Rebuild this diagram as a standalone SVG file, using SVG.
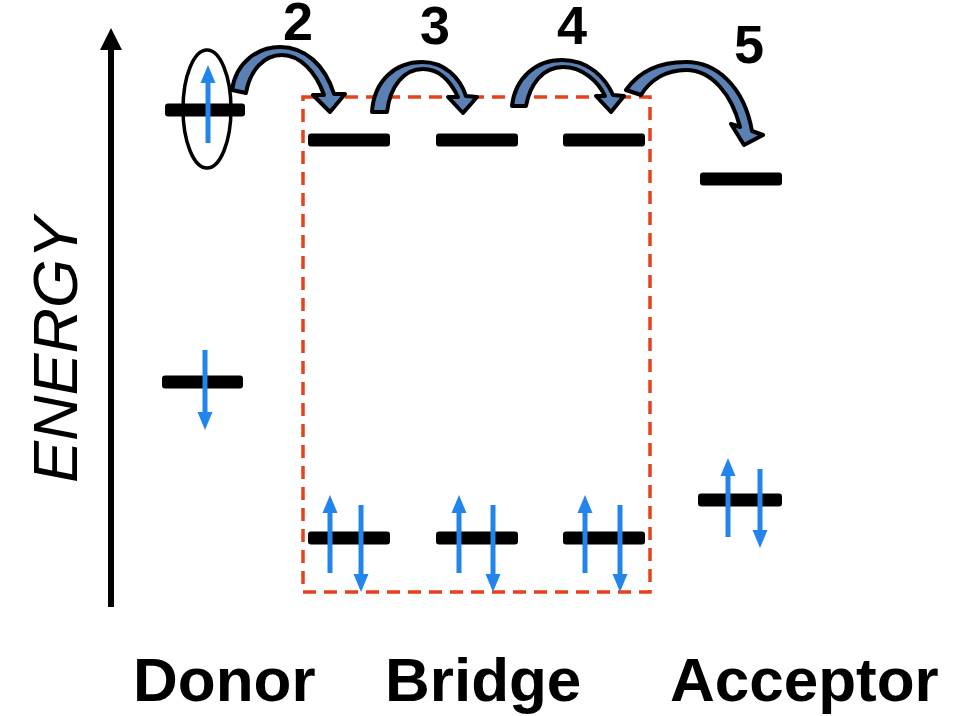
<svg xmlns="http://www.w3.org/2000/svg" width="955" height="716" viewBox="0 0 955 716">
  <style>
    .lvl { fill: #000; }
    .spin { stroke: #2384ec; stroke-width: 5; fill: none; }
    .hop { fill: #5a80b4; stroke: #000; stroke-width: 4; stroke-linejoin: round; }
    .lbl { font-family: "Liberation Sans", Arial, sans-serif; font-weight: bold; fill: #000; }
    .num { font-family: "Liberation Sans", Arial, sans-serif; font-weight: bold; font-size: 54px; fill: #000; text-anchor: middle; }
  </style>
  <defs>
    <marker id="spinHead" markerUnits="userSpaceOnUse" markerWidth="20" markerHeight="16" viewBox="0 -8 20 16" refX="0" refY="0" orient="auto" overflow="visible">
      <path d="M0,-7.5 L18,0 L0,7.5 Z" fill="#2384ec"/>
    </marker>
  </defs>
  <rect width="955" height="716" fill="#fff"/>

  <!-- energy axis -->
  <g id="axis">
    <line x1="111" y1="607" x2="111" y2="48" stroke="#000" stroke-width="6"/>
    <polygon points="100,50 122,50 111,28" fill="#000"/>
    <text x="0" y="0" transform="translate(77,350) rotate(-90)" font-family="'Liberation Sans', Arial, sans-serif" font-style="italic" font-size="63" text-anchor="middle">ENERGY</text>
  </g>

  <!-- bridge region -->
  <rect id="bridge-box" x="303" y="97" width="347" height="495" fill="none" stroke="#e8401c" stroke-width="3.5" stroke-dasharray="13 8"/>

  <!-- donor -->
  <g id="donor">
    <ellipse cx="207" cy="109" rx="24" ry="59" fill="#fff" stroke="#000" stroke-width="3.5"/>
    <rect class="lvl" x="165" y="103.5" width="80" height="13" rx="3"/>
    <line class="spin" x1="208" y1="143" x2="208" y2="83" marker-end="url(#spinHead)"/>
    <rect class="lvl" x="162" y="375.5" width="81" height="13" rx="3"/>
    <line class="spin" x1="205" y1="350" x2="205" y2="412" marker-end="url(#spinHead)"/>
  </g>

  <!-- bridge units -->
  <g id="bridge-1">
    <rect class="lvl" x="308" y="133.5" width="82" height="13" rx="3"/>
    <rect class="lvl" x="308" y="531.5" width="82" height="13" rx="3"/>
    <line class="spin" x1="330" y1="573" x2="330" y2="513" marker-end="url(#spinHead)"/>
    <line class="spin" x1="361" y1="505" x2="361" y2="574" marker-end="url(#spinHead)"/>
  </g>
  <g id="bridge-2">
    <rect class="lvl" x="436" y="133.5" width="82" height="13" rx="3"/>
    <rect class="lvl" x="436" y="531.5" width="82" height="13" rx="3"/>
    <line class="spin" x1="459" y1="573" x2="459" y2="513" marker-end="url(#spinHead)"/>
    <line class="spin" x1="493" y1="505" x2="493" y2="574" marker-end="url(#spinHead)"/>
  </g>
  <g id="bridge-3">
    <rect class="lvl" x="563" y="133.5" width="82" height="13" rx="3"/>
    <rect class="lvl" x="563" y="531.5" width="82" height="13" rx="3"/>
    <line class="spin" x1="585" y1="573" x2="585" y2="513" marker-end="url(#spinHead)"/>
    <line class="spin" x1="620" y1="505" x2="620" y2="574" marker-end="url(#spinHead)"/>
  </g>

  <!-- acceptor -->
  <g id="acceptor">
    <rect class="lvl" x="700" y="172.5" width="82" height="13" rx="3"/>
    <rect class="lvl" x="698" y="493.5" width="84" height="13" rx="3"/>
    <line class="spin" x1="728" y1="537" x2="728" y2="476" marker-end="url(#spinHead)"/>
    <line class="spin" x1="760" y1="469" x2="760" y2="530" marker-end="url(#spinHead)"/>
  </g>

  <!-- electron hops -->
  <g id="connectors">
    <path class="hop" d="M232,90 C236,62 258,47 280,47 C305,47 325,65 334,94 L345,94 L330,112 L313,95 L324,95 C316,72 300,55 282,55 C264,55 250,70 246,93 Z"/>
    <path class="hop" d="M372,112 C374,80 396,62 422,62 C445,62 460,78 466,96 L477,97 L463,113 L448,97 L458,97 C450,80 438,69 423,69 C404,69 390,86 387,112 Z"/>
    <path class="hop" d="M512,106 C515,78 536,60 562,60 C588,60 605,77 613,95 L624,96 L611,112 L596,96 L605,96 C598,81 582,67 563,67 C543,67 530,84 526,106 Z"/>
    <path class="hop" d="M626,90 C640,70 660,62 686,62 C716,62 744,86 752,131 L763,135 L744,145 L731,124 L740,127 C732,95 712,70 686,70 C666,70 650,80 641,95 Z"/>
  </g>

  <!-- step numbers -->
  <g id="steps">
    <text class="num" x="298" y="40">2</text>
    <text class="num" x="435" y="44">3</text>
    <text class="num" x="572" y="44">4</text>
    <text class="num" x="749" y="63">5</text>
  </g>

  <!-- site labels -->
  <g id="labels">
    <text class="lbl" x="133" y="701" font-size="62">Donor</text>
    <text class="lbl" x="385" y="701" font-size="62">Bridge</text>
    <text class="lbl" x="670" y="701" font-size="62">Acceptor</text>
  </g>
</svg>
